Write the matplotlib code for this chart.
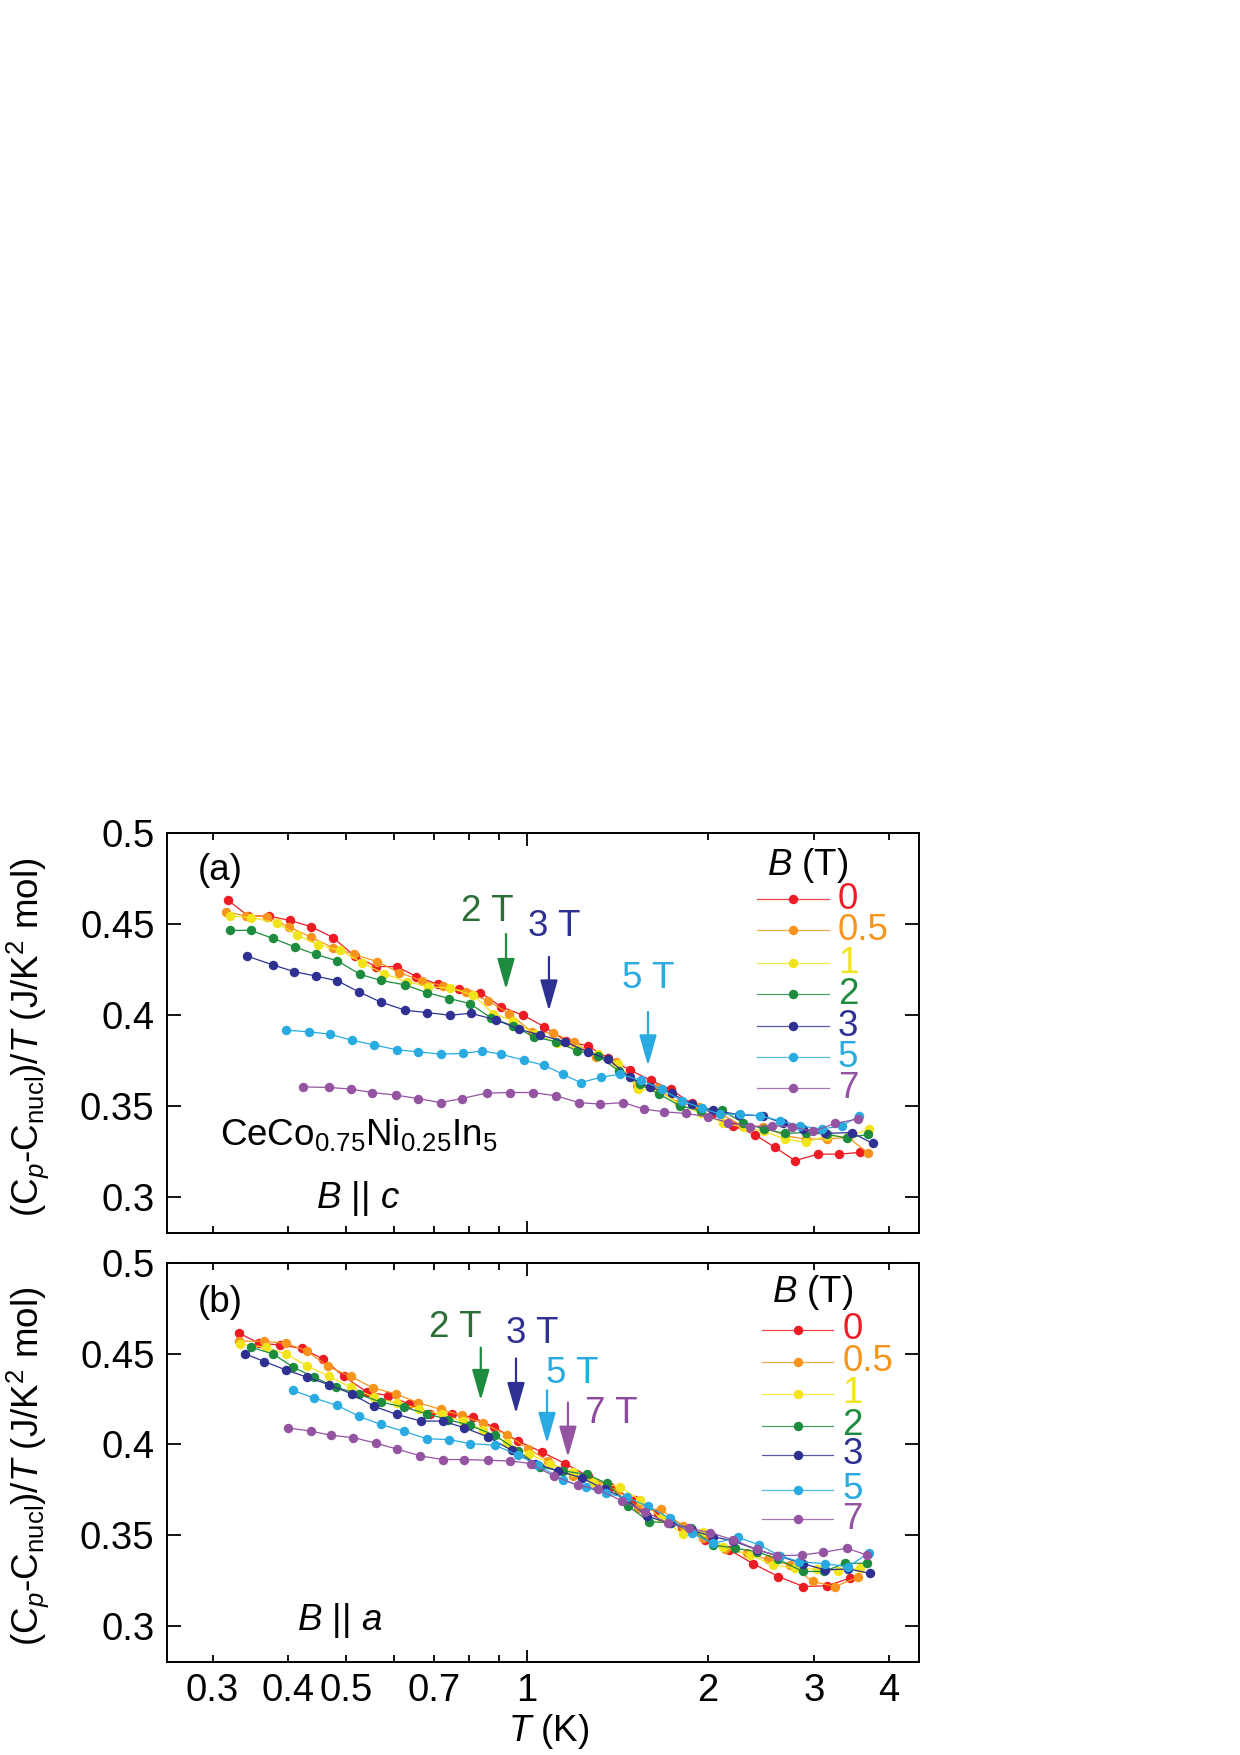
import matplotlib
matplotlib.use("Agg")
import matplotlib.pyplot as plt
from matplotlib.ticker import NullLocator

plt.rcParams['font.family'] = ['Liberation Sans', 'DejaVu Sans']
plt.rcParams['mathtext.fontset'] = 'custom'
plt.rcParams['mathtext.rm'] = 'Liberation Sans'
plt.rcParams['mathtext.it'] = 'Liberation Sans:italic'
plt.rcParams['mathtext.bf'] = 'Liberation Sans:bold'

# field values (T) and colours
fields = ['0', '0.5', '1', '2', '3', '5', '7']
colors = ['#ed1c24', '#f7941d', '#f2e41a', '#1e8c3e', '#2e3192', '#29abe2', '#9454a2']

# ---- panel (a): B || c ----
a_T0 = [0.318, 0.344, 0.372, 0.403, 0.438, 0.476, 0.517, 0.561, 0.607, 0.655, 0.712, 0.772, 0.837, 0.907,
        0.986, 1.067, 1.160, 1.262, 1.366, 1.484, 1.606, 1.734, 1.879, 2.037, 2.204, 2.395, 2.586, 2.792,
        3.045, 3.309, 3.582]
a_C0 = [0.4632, 0.4544, 0.4544, 0.4520, 0.4485, 0.4425, 0.4324, 0.4266, 0.4266, 0.4211, 0.4168, 0.4141,
        0.4123, 0.4044, 0.3998, 0.3936, 0.3857, 0.3830, 0.3762, 0.3696, 0.3641, 0.3590, 0.3513, 0.3460,
        0.3390, 0.3341, 0.3271, 0.3198, 0.3234, 0.3234, 0.3244]
a_T05 = [0.316, 0.341, 0.370, 0.402, 0.437, 0.475, 0.516, 0.564, 0.613, 0.670, 0.726, 0.792, 0.862, 0.935,
         1.018, 1.106, 1.197, 1.302, 1.406, 1.522, 1.644, 1.793, 1.935, 2.103, 2.285, 2.473, 2.688, 2.912,
         3.152, 3.424, 3.698]
a_C05 = [0.4568, 0.4544, 0.4540, 0.4484, 0.4429, 0.4370, 0.4333, 0.4293, 0.4233, 0.4187, 0.4159, 0.4128,
         0.4077, 0.4007, 0.3908, 0.3899, 0.3853, 0.3769, 0.3740, 0.3608, 0.3597, 0.3513, 0.3496, 0.3454,
         0.3390, 0.3385, 0.3335, 0.3317, 0.3317, 0.3326, 0.3238]
a_T1 = [0.321, 0.348, 0.384, 0.414, 0.450, 0.489, 0.531, 0.578, 0.631, 0.685, 0.745, 0.814, 0.879, 0.949,
        1.031, 1.120, 1.213, 1.314, 1.419, 1.532, 1.660, 1.797, 1.948, 2.117, 2.297, 2.483, 2.688, 2.912,
        3.152, 3.424, 3.712]
a_C1 = [0.4544, 0.4535, 0.4507, 0.4440, 0.4385, 0.4355, 0.4288, 0.4227, 0.4183, 0.4156, 0.4147, 0.4110,
        0.4007, 0.3967, 0.3894, 0.3848, 0.3811, 0.3784, 0.3729, 0.3592, 0.3579, 0.3509, 0.3458, 0.3408,
        0.3381, 0.3359, 0.3317, 0.3299, 0.3335, 0.3330, 0.3372]
a_T2 = [0.321, 0.347, 0.378, 0.411, 0.445, 0.484, 0.528, 0.571, 0.627, 0.681, 0.743, 0.804, 0.873, 0.949,
        1.027, 1.117, 1.213, 1.314, 1.424, 1.542, 1.660, 1.797, 1.948, 2.108, 2.285, 2.479, 2.688, 2.912,
        3.152, 3.412, 3.698]
a_C2 = [0.4465, 0.4465, 0.4421, 0.4374, 0.4333, 0.4297, 0.4223, 0.4190, 0.4165, 0.4123, 0.4090, 0.4062,
        0.3982, 0.3940, 0.3879, 0.3853, 0.3802, 0.3775, 0.3689, 0.3619, 0.3564, 0.3500, 0.3473, 0.3476,
        0.3408, 0.3372, 0.3348, 0.3353, 0.3344, 0.3322, 0.3344]
a_T3 = [0.342, 0.378, 0.410, 0.445, 0.484, 0.526, 0.571, 0.627, 0.681, 0.745, 0.806, 0.888, 0.971, 1.051,
        1.157, 1.262, 1.366, 1.484, 1.602, 1.741, 1.879, 2.037, 2.256, 2.467, 2.670, 2.883, 3.132, 3.469,
        3.760]
a_C3 = [0.4324, 0.4275, 0.4238, 0.4214, 0.4187, 0.4126, 0.4071, 0.4026, 0.4013, 0.3998, 0.4009, 0.3973,
        0.3921, 0.3890, 0.3852, 0.3797, 0.3756, 0.3656, 0.3601, 0.3568, 0.3509, 0.3476, 0.3451, 0.3445,
        0.3403, 0.3372, 0.3348, 0.3353, 0.3293]
a_T5 = [0.398, 0.434, 0.470, 0.511, 0.557, 0.607, 0.660, 0.719, 0.782, 0.843, 0.904, 0.989, 1.067, 1.147,
        1.228, 1.326, 1.428, 1.546, 1.675, 1.809, 1.953, 2.095, 2.261, 2.442, 2.636, 2.847, 3.093, 3.339,
        3.573]
a_C5 = [0.3916, 0.3907, 0.3894, 0.3861, 0.3835, 0.3808, 0.3797, 0.3784, 0.3788, 0.3802, 0.3784, 0.3751,
        0.3723, 0.3674, 0.3628, 0.3656, 0.3674, 0.3641, 0.3592, 0.3528, 0.3487, 0.3454, 0.3454, 0.3445,
        0.3418, 0.3390, 0.3372, 0.3390, 0.3445]
a_T7 = [0.424, 0.468, 0.509, 0.553, 0.605, 0.658, 0.719, 0.779, 0.857, 0.939, 1.022, 1.117, 1.220, 1.323,
        1.446, 1.565, 1.690, 1.837, 1.998, 2.163, 2.350, 2.553, 2.756, 2.995, 3.254, 3.549]
a_C7 = [0.3604, 0.3601, 0.3592, 0.3573, 0.3559, 0.3540, 0.3518, 0.3540, 0.3570, 0.3573, 0.3573, 0.3555,
        0.3518, 0.3509, 0.3518, 0.3482, 0.3467, 0.3458, 0.3440, 0.3408, 0.3385, 0.3390, 0.3385, 0.3359,
        0.3403, 0.3427]

# ---- panel (b): B || a ----
b_T0 = [0.332, 0.359, 0.388, 0.422, 0.458, 0.496, 0.542, 0.588, 0.636, 0.690, 0.750, 0.812, 0.881, 0.967,
        1.058, 1.157, 1.265, 1.374, 1.512, 1.654, 1.809, 1.978, 2.171, 2.380, 2.619, 2.883, 3.152, 3.447]
b_C0 = [0.4612, 0.4557, 0.4548, 0.4529, 0.4471, 0.4374, 0.4288, 0.4269, 0.4223, 0.4168, 0.4168, 0.4150,
        0.4095, 0.4018, 0.3958, 0.3894, 0.3824, 0.3766, 0.3692, 0.3619, 0.3546, 0.3473, 0.3418, 0.3341,
        0.3271, 0.3216, 0.3220, 0.3262]
b_T05 = [0.332, 0.366, 0.397, 0.430, 0.467, 0.509, 0.555, 0.605, 0.660, 0.719, 0.779, 0.844, 0.925, 1.005,
         1.085, 1.191, 1.298, 1.415, 1.532, 1.669, 1.820, 1.965, 2.135, 2.320, 2.521, 2.739, 2.988, 3.254,
         3.549]
b_C05 = [0.4568, 0.4568, 0.4557, 0.4516, 0.4429, 0.4374, 0.4311, 0.4278, 0.4229, 0.4192, 0.4159, 0.4117,
         0.4053, 0.3976, 0.3908, 0.3824, 0.3789, 0.3747, 0.3647, 0.3641, 0.3549, 0.3482, 0.3421, 0.3399,
         0.3366, 0.3335, 0.3244, 0.3216, 0.3266]
b_T1 = [0.333, 0.368, 0.397, 0.430, 0.469, 0.509, 0.557, 0.607, 0.661, 0.721, 0.784, 0.846, 0.928, 1.009,
        1.092, 1.191, 1.289, 1.428, 1.542, 1.669, 1.816, 1.960, 2.122, 2.350, 2.570, 2.792, 3.034, 3.296,
        3.582]
b_C1 = [0.4553, 0.4535, 0.4498, 0.4434, 0.4374, 0.4315, 0.4260, 0.4227, 0.4196, 0.4165, 0.4126, 0.4081,
        0.4007, 0.3949, 0.3894, 0.3848, 0.3793, 0.3766, 0.3692, 0.3592, 0.3505, 0.3518, 0.3436, 0.3390,
        0.3335, 0.3317, 0.3311, 0.3304, 0.3317]
b_T2 = [0.348, 0.378, 0.409, 0.442, 0.482, 0.526, 0.571, 0.625, 0.681, 0.740, 0.804, 0.885, 0.967, 1.051,
        1.149, 1.257, 1.360, 1.475, 1.598, 1.734, 1.874, 2.042, 2.219, 2.417, 2.619, 2.876, 3.120, 3.381,
        3.675]
b_C2 = [0.4535, 0.4498, 0.4425, 0.4370, 0.4315, 0.4275, 0.4233, 0.4205, 0.4168, 0.4136, 0.4104, 0.4049,
        0.3963, 0.3875, 0.3853, 0.3835, 0.3784, 0.3659, 0.3573, 0.3568, 0.3537, 0.3445, 0.3427, 0.3408,
        0.3366, 0.3299, 0.3299, 0.3344, 0.3344]
b_T3 = [0.340, 0.366, 0.397, 0.431, 0.469, 0.511, 0.557, 0.607, 0.666, 0.724, 0.786, 0.862, 0.943, 1.031,
        1.127, 1.233, 1.348, 1.461, 1.582, 1.730, 1.879, 2.037, 2.204, 2.417, 2.619, 2.883, 3.132, 3.424,
        3.722]
b_C3 = [0.4498, 0.4456, 0.4410, 0.4370, 0.4328, 0.4278, 0.4209, 0.4165, 0.4128, 0.4128, 0.4092, 0.4040,
        0.3967, 0.3894, 0.3853, 0.3815, 0.3751, 0.3701, 0.3604, 0.3564, 0.3527, 0.3491, 0.3467, 0.3418,
        0.3385, 0.3341, 0.3308, 0.3313, 0.3289]
b_T5 = [0.408, 0.443, 0.484, 0.526, 0.571, 0.625, 0.681, 0.743, 0.804, 0.885, 0.967, 1.044, 1.149, 1.254,
        1.353, 1.465, 1.587, 1.730, 1.879, 2.042, 2.247, 2.436, 2.636, 2.839, 3.132, 3.424, 3.712]
b_C5 = [0.4297, 0.4255, 0.4214, 0.4154, 0.4110, 0.4071, 0.4031, 0.4026, 0.4004, 0.3995, 0.3940, 0.3885,
        0.3802, 0.3762, 0.3729, 0.3707, 0.3659, 0.3592, 0.3509, 0.3454, 0.3487, 0.3445, 0.3385, 0.3353,
        0.3341, 0.3326, 0.3403]
b_T7 = [0.401, 0.437, 0.473, 0.514, 0.560, 0.609, 0.665, 0.724, 0.786, 0.862, 0.939, 1.014, 1.109, 1.214,
        1.314, 1.437, 1.572, 1.719, 1.863, 2.016, 2.204, 2.411, 2.603, 2.864, 3.112, 3.403, 3.675]
b_C7 = [0.4090, 0.4073, 0.4049, 0.4037, 0.4007, 0.3973, 0.3936, 0.3916, 0.3916, 0.3912, 0.3908, 0.3894,
        0.3824, 0.3775, 0.3751, 0.3689, 0.3628, 0.3564, 0.3537, 0.3513, 0.3473, 0.3421, 0.3385, 0.3390,
        0.3405, 0.3427, 0.3390]

a_series = [(a_T0, a_C0), (a_T05, a_C05), (a_T1, a_C1), (a_T2, a_C2), (a_T3, a_C3), (a_T5, a_C5), (a_T7, a_C7)]
b_series = [(b_T0, b_C0), (b_T05, b_C05), (b_T1, b_C1), (b_T2, b_C2), (b_T3, b_C3), (b_T5, b_C5), (b_T7, b_C7)]

# arrows marking the kink: (label, arrow colour, text colour, T, arrow top, arrow tip, text T, text y)
a_arrows = [('2 T', '#1e8c3e', '#2b6e35', 0.923, 0.4445, 0.414, 0.86, 0.457),
            ('3 T', '#2e3192', '#2e3192', 1.088, 0.4319, 0.4022, 1.109, 0.4484),
            ('5 T', '#29abe2', '#29abe2', 1.59, 0.4016, 0.372, 1.59, 0.4198)]
b_arrows = [('2 T', '#1e8c3e', '#2b6e35', 0.838, 0.4533, 0.4242, 0.759, 0.4643),
            ('3 T', '#2e3192', '#2e3192', 0.959, 0.4473, 0.417, 1.019, 0.461),
            ('5 T', '#29abe2', '#29abe2', 1.08, 0.4297, 0.4005, 1.188, 0.439),
            ('7 T', '#9454a2', '#8e4a9e', 1.17, 0.423, 0.3929, 1.38, 0.417)]

yticks = [0.3, 0.35, 0.4, 0.45, 0.5]
ytick_labels = ['0.3', '0.35', '0.4', '0.45', '0.5']
xminor = [0.3, 0.4, 0.5, 0.6, 0.7, 0.8, 0.9, 2, 3, 4]
xminor_labels = ['0.3', '0.4', '0.5', '', '0.7', '', '', '2', '3', '4']

fig = plt.figure(figsize=(12.4, 17.55), dpi=100)
ax1 = fig.add_axes([0.1347, 0.2974, 0.6065, 0.2279])
ax2 = fig.add_axes([0.1347, 0.053, 0.6065, 0.2274])

ylabel = r'(C$_{p}$-C$_{\mathrm{nucl}}$)/$T$ (J/K$^2$ mol)'
fs_text = 26.5


def setup_axis(ax, show_xlabels):
    ax.set_xscale('log')
    ax.set_xlim(0.252, 4.49)
    ax.set_ylim(0.28, 0.5)
    ax.set_xticks([1])
    ax.set_xticks(xminor, minor=True)
    if show_xlabels:
        ax.set_xticklabels(['1'])
        ax.set_xticklabels(xminor_labels, minor=True)
    else:
        ax.set_xticklabels([])
        ax.set_xticklabels([], minor=True)
    ax.set_yticks(yticks)
    ax.set_yticklabels(ytick_labels)
    ax.yaxis.set_minor_locator(NullLocator())
    ax.tick_params(which='both', direction='in', top=True, right=True, width=1.3, labelsize=27.5)
    ax.tick_params(axis='y', which='major', length=10, pad=9)
    ax.tick_params(axis='x', which='major', length=9, pad=8)
    ax.tick_params(axis='x', which='minor', length=5, pad=8)
    for s in ax.spines.values():
        s.set_linewidth(1.4)
    ax.set_ylabel(ylabel, fontsize=26.5)
    ax.yaxis.label.set_va('center')
    ax.yaxis.set_label_coords(-0.185, 0.49)


def draw_panel(ax, series, arrows, leg_x, leg_rows, head_y, lbl_x):
    for (T, C), c in zip(series, colors):
        ax.plot(T, C, '-o', color=c, lw=0.9, ms=6.8, mec='none')
    for lab, ac, tc, t, ytop, ytip, tx, ty in arrows:
        ax.annotate('', xy=(t, ytip), xytext=(t, ytop),
                    arrowprops=dict(arrowstyle='-|>,head_length=0.95,head_width=0.27',
                                    color=ac, lw=1.6, shrinkA=0, shrinkB=0, mutation_scale=20))
        ax.text(tx, ty, lab, color=tc, fontsize=fs_text, ha='center', va='center')
    # hand-built legend
    ax.text((leg_x[0] + leg_x[1]) / 2 + 0.02, head_y, r'$B$ (T)', fontsize=fs_text,
            ha='center', va='center', transform=ax.transAxes)
    for f, c, yy in zip(fields, colors, leg_rows):
        ax.plot(leg_x, [yy, yy], color=c, lw=0.9, transform=ax.transAxes, alpha=0.8)
        ax.plot([(leg_x[0] + leg_x[1]) / 2], [yy], 'o', color=c, ms=6.8, mec='none', transform=ax.transAxes)
        ax.text(lbl_x, yy, f, color=c, fontsize=fs_text, ha='left', va='center', transform=ax.transAxes)


setup_axis(ax1, False)
setup_axis(ax2, True)

draw_panel(ax1, a_series, a_arrows, [0.785, 0.880],
           [0.835, 0.7575, 0.675, 0.5975, 0.5175, 0.44, 0.3625], 0.92, 0.892)
draw_panel(ax2, b_series, b_arrows, [0.791, 0.886],
           [0.832, 0.752, 0.672, 0.5915, 0.519, 0.431, 0.358], 0.925, 0.898)

ax1.text(0.041, 0.9075, '(a)', fontsize=fs_text, ha='left', va='center', transform=ax1.transAxes)
ax2.text(0.041, 0.90, '(b)', fontsize=fs_text, ha='left', va='center', transform=ax2.transAxes)
ax1.text(0.071, 0.22, r'CeCo$_{0.75}$Ni$_{0.25}$In$_5$', fontsize=fs_text, ha='left', va='baseline',
         transform=ax1.transAxes)
ax1.text(0.254, 0.0875, r'$B$ || $c$', fontsize=fs_text, ha='center', va='center', transform=ax1.transAxes)
ax2.text(0.230, 0.105, r'$B$ || $a$', fontsize=fs_text, ha='center', va='center', transform=ax2.transAxes)

ax2.set_xlabel(r'$T$ (K)', fontsize=fs_text)
ax2.xaxis.label.set_va('center')
ax2.xaxis.set_label_coords(0.507, -0.173)

fig.savefig('out.png', dpi=100)
